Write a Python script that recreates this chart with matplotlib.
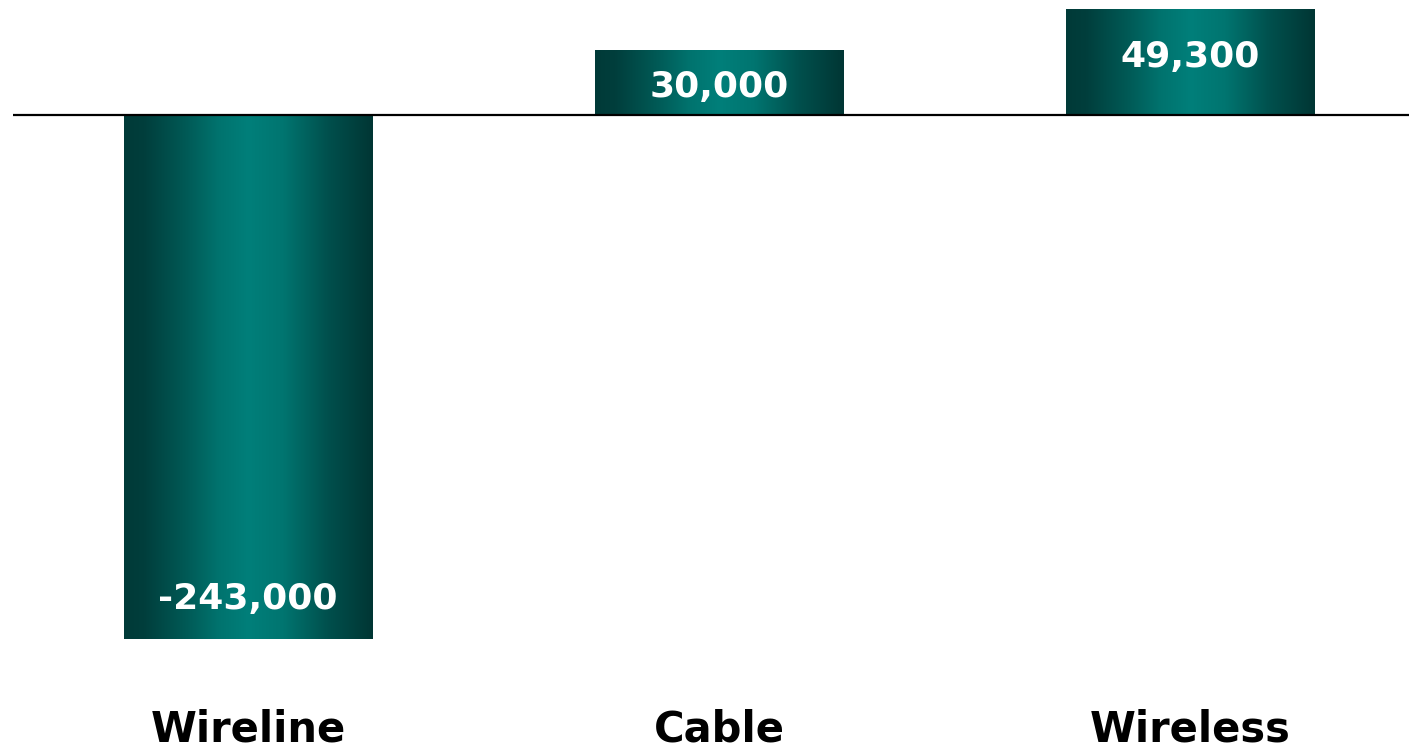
import numpy as np
import matplotlib
matplotlib.use("Agg")
import matplotlib.pyplot as plt
from matplotlib.colors import LinearSegmentedColormap

categories = ["Wireline", "Cable", "Wireless"]
values = [-243000, 30000, 49300]
value_labels = ["-243,000", "30,000", "49,300"]

teal = LinearSegmentedColormap.from_list(
    "teal_bar",
    [(0.0, "#003a38"), (0.08, "#003e3c"), (0.25, "#005a56"),
     (0.38, "#00736e"), (0.5, "#007f7a"), (0.64, "#007570"),
     (0.82, "#00504d"), (1.0, "#003634")])


def main():
    fig = plt.figure(figsize=(14.09, 7.52), dpi=100)
    ax = fig.add_axes([13 / 1409, 0, 1 - 13 / 1409, 1])

    x = np.arange(len(categories))
    bars = ax.bar(x, values, width=0.527, color="none", edgecolor="none")

    # horizontal gradient fill clipped to each bar
    grad = np.linspace(0, 1, 256).reshape(1, -1)
    for b in bars:
        x0, y0 = b.get_x(), b.get_y()
        w, h = b.get_width(), b.get_height()
        im = ax.imshow(grad, cmap=teal, aspect="auto",
                       extent=[x0, x0 + w, y0, y0 + h], zorder=2)
        im.set_clip_path(b)

    ax.set_xlim(-0.499, 2.465)
    ax.set_ylim(-295400, 53330)
    ax.axhline(0, color="black", linewidth=1.6, zorder=3)

    px = 463.7  # data units per pixel
    for i, (v, lab) in enumerate(zip(values, value_labels)):
        inset = 44 * px
        if abs(v) / 2 < inset:
            ypos = v / 2
        else:
            ypos = v - np.sign(v) * inset
        ypos -= 4 * px
        ax.text(i, ypos, lab, ha="center", va="center", color="white",
                fontsize=26, fontweight="bold", family="DejaVu Sans",
                zorder=4)

    for i, c in enumerate(categories):
        ax.text(i, 0.03, c, transform=ax.get_xaxis_transform(),
                ha="center", va="center", fontsize=30, fontweight="bold",
                family="DejaVu Sans")

    ax.axis("off")
    fig.savefig("out.png", dpi=100)


if __name__ == "__main__":
    main()
